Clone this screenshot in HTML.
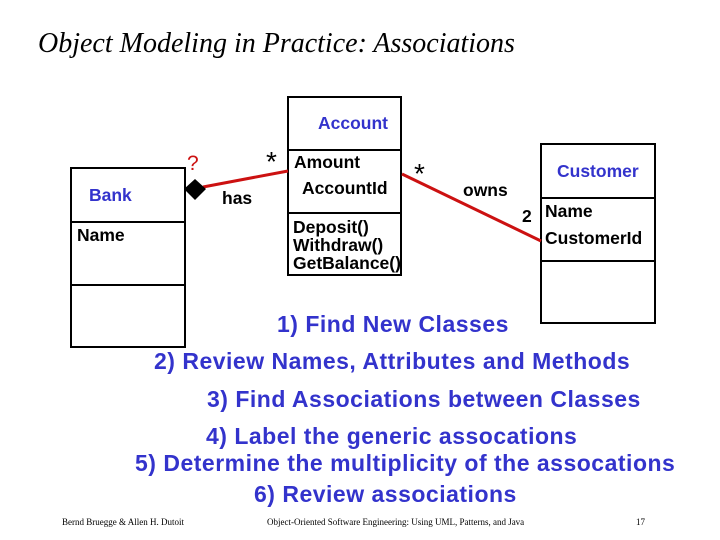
<!DOCTYPE html>
<html><head><style>
body{margin:0;width:720px;height:540px;background:#fff;position:relative;overflow:hidden;font-family:"Liberation Sans",sans-serif}
.t{position:absolute;white-space:nowrap}
.b{position:absolute;border:2px solid #000;box-sizing:border-box}
.h{position:absolute;border-top:2px solid #000}
.blue{color:#3333cc}
.bd{font-weight:bold;font-size:17.5px}
.st{font-weight:bold;font-size:23px;letter-spacing:0.5px;color:#3333cc}
.f{font-family:"Liberation Serif",serif;font-size:9px}
</style></head><body>
<div class="t" style="left:38px;top:28px;font-family:'Liberation Serif',serif;font-style:italic;font-size:28px">Object Modeling in Practice: Associations</div>

<div class="b" style="left:287px;top:96px;width:115px;height:180px"></div>
<div class="h" style="left:287px;top:149px;width:115px"></div>
<div class="h" style="left:287px;top:212px;width:115px"></div>

<div class="b" style="left:70px;top:167px;width:116px;height:181px"></div>
<div class="h" style="left:70px;top:221px;width:116px"></div>
<div class="h" style="left:70px;top:284px;width:116px"></div>

<div class="b" style="left:540px;top:143px;width:116px;height:181px"></div>
<div class="h" style="left:540px;top:197px;width:116px"></div>
<div class="h" style="left:540px;top:260px;width:116px"></div>

<svg style="position:absolute;left:0;top:0" width="720" height="540">
<line x1="203" y1="187" x2="288" y2="171" stroke="#cc1111" stroke-width="3"/>
<line x1="402" y1="174" x2="541" y2="241" stroke="#cc1111" stroke-width="3"/>
<polygon points="184,189 195,179 206,189 195,200" fill="#000"/>
</svg>

<div class="t bd blue" style="left:318px;top:113px">Account</div>
<div class="t bd" style="left:294px;top:152px">Amount</div>
<div class="t bd" style="left:302px;top:178px">AccountId</div>
<div class="t bd" style="left:293px;top:218px;line-height:18px">Deposit()<br>Withdraw()<br>GetBalance()</div>

<div class="t bd blue" style="left:89px;top:185px">Bank</div>
<div class="t bd" style="left:77px;top:225px">Name</div>

<div class="t bd blue" style="left:557px;top:161px">Customer</div>
<div class="t bd" style="left:545px;top:201px">Name</div>
<div class="t bd" style="left:545px;top:228px">CustomerId</div>

<div class="t" style="left:187px;top:152px;color:#cc1111;font-size:21px">?</div>
<div class="t bd" style="left:222px;top:188px">has</div>
<div class="t" style="left:266px;top:146px;font-size:28px">*</div>
<div class="t" style="left:414px;top:158px;font-size:28px">*</div>
<div class="t bd" style="left:463px;top:180px">owns</div>
<div class="t bd" style="left:522px;top:206px">2</div>

<div class="t st" style="left:277px;top:311px">1) Find New Classes</div>
<div class="t st" style="left:154px;top:348px">2) Review Names, Attributes and Methods</div>
<div class="t st" style="left:207px;top:386px">3) Find Associations between Classes</div>
<div class="t st" style="left:206px;top:423px">4) Label the generic assocations</div>
<div class="t st" style="left:135px;top:450px">5) Determine the multiplicity of the assocations</div>
<div class="t st" style="left:254px;top:481px">6) Review associations</div>

<div class="t f" style="left:62px;top:517px">Bernd Bruegge &amp; Allen H. Dutoit</div>
<div class="t f" style="left:267px;top:517px">Object-Oriented Software Engineering: Using UML, Patterns, and Java</div>
<div class="t f" style="left:636px;top:517px">17</div>
</body></html>
